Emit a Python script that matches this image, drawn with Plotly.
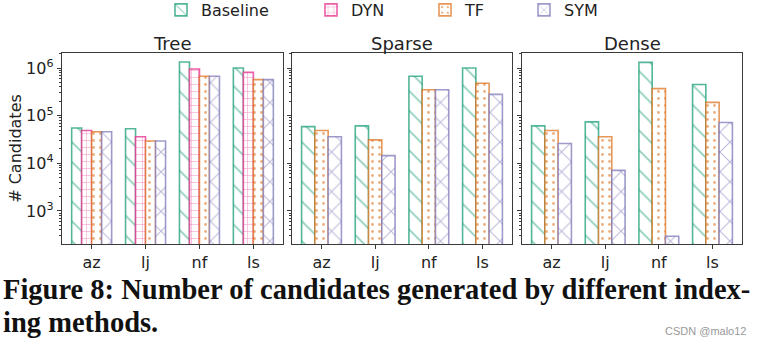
import plotly.graph_objects as go

categories = ["az", "lj", "nf", "ls"]
panels = ["Tree", "Sparse", "Dense"]
series = ["Baseline", "DYN", "TF", "SYM"]

tree_baseline = [55000, 53000, 1340000, 1000000]
tree_dyn = [49000, 36000, 950000, 810000]
tree_tf = [46000, 29500, 670000, 570000]
tree_sym = [46000, 29500, 670000, 570000]

sparse_baseline = [59000, 61000, 670000, 1000000]
sparse_tf = [49000, 31000, 350000, 480000]
sparse_sym = [36000, 14500, 350000, 280000]

dense_baseline = [61000, 74000, 1310000, 450000]
dense_tf = [49000, 36000, 370000, 190000]
dense_sym = [26000, 7100, 295, 72000]

ytick_vals = [1e3, 1e4, 1e5, 1e6]
ytick_text = ["10<sup>3</sup>", "10<sup>4</sup>", "10<sup>5</sup>", "10<sup>6</sup>"]

panel_data = {
    "Tree": {"Baseline": tree_baseline, "DYN": tree_dyn, "TF": tree_tf, "SYM": tree_sym},
    "Sparse": {"Baseline": sparse_baseline, "TF": sparse_tf, "SYM": sparse_sym},
    "Dense": {"Baseline": dense_baseline, "TF": dense_tf, "SYM": dense_sym},
}

colors = {"Baseline": "#1b9e77", "DYN": "#e7298a", "TF": "#d95f02", "SYM": "#7570b3"}
edge = {"Baseline": "rgba(27,158,119,0.75)", "DYN": "rgba(231,41,138,0.75)",
        "TF": "rgba(217,95,2,0.65)", "SYM": "rgba(117,112,179,0.7)"}
patterns = {
    "Baseline": dict(shape="\\", size=14, solidity=0.12),
    "DYN": dict(shape="+", size=7, solidity=0.15),
    "TF": dict(shape=".", size=7, solidity=0.13),
    "SYM": dict(shape="x", size=14, solidity=0.14),
}
# legend text start (pixels) for each entry
legend_text_x = {"Baseline": 201, "DYN": 351, "TF": 465, "SYM": 564}
legend_names = {"Baseline": "legend", "DYN": "legend2", "TF": "legend3", "SYM": "legend4"}

fig = go.Figure()
for pi, p in enumerate(panels):
    ax = "" if pi == 0 else str(pi + 1)
    for s in series:
        if s not in panel_data[p]:
            continue
        fig.add_trace(go.Bar(
            x=categories, y=panel_data[p][s], name=s,
            xaxis="x" + ax, yaxis="y" + ax,
            legendgroup=s, showlegend=(pi == 0), legend=legend_names[s],
            marker=dict(color="white", line=dict(color=edge[s], width=1.6),
                        pattern=dict(fgcolor=colors[s], bgcolor="white", fillmode="overlay",
                                     **patterns[s])),
        ))

W, H = 762, 345
ml, mr, mt, mb = 62, 20, 53, 101
pw = W - ml - mr
ph = H - mt - mb
px_dom = [(62, 283), (292, 512), (522, 742)]
frame = "#3a3a3a"

minor_vals = []
for k in range(2, 7):
    for m in range(2, 10):
        minor_vals.append(m * 10 ** k)

layout = dict(
    width=W, height=H, margin=dict(l=ml, r=mr, t=mt, b=mb, autoexpand=False),
    paper_bgcolor="white", plot_bgcolor="white",
    barmode="group", bargap=0.258, bargroupgap=0,
    font=dict(family="DejaVu Sans", size=16, color="#222"),
    showlegend=True,
)
for s in series:
    layout[legend_names[s]] = dict(
        orientation="h", xref="container", yref="container",
        x=(legend_text_x[s] - 40) / W, xanchor="left",
        y=1 - 10 / H, yanchor="middle",
        font=dict(family="DejaVu Sans", size=16, color="#222"),
        bgcolor="rgba(0,0,0,0)",
    )
for pi in range(3):
    ax = "" if pi == 0 else str(pi + 1)
    a, b = px_dom[pi]
    layout["xaxis" + ax] = dict(
        domain=[(a - ml) / pw, (b - ml) / pw], range=[-0.55, 3.55],
        showline=True, mirror=True, linecolor=frame, linewidth=1.4,
        ticks="outside", ticklen=4, tickcolor=frame, showgrid=False,
        tickfont=dict(family="DejaVu Sans", size=16, color="#222"),
        anchor="y" + ax, fixedrange=True,
    )
    layout["yaxis" + ax] = dict(
        type="log", range=[2.307, 6.315], domain=[0, 1],
        tickmode="array", tickvals=ytick_vals, ticktext=ytick_text,
        showticklabels=(pi == 0),
        showline=True, mirror=True, linecolor=frame, linewidth=1.4,
        ticks="outside", ticklen=4, tickcolor=frame, showgrid=False,
        minor=dict(tickmode="array", tickvals=minor_vals, ticks="outside", ticklen=2,
                   tickcolor=frame, showgrid=False),
        tickfont=dict(family="DejaVu Sans", size=16, color="#222"),
        anchor="x" + ax, fixedrange=True,
    )
layout["yaxis"]["title"] = dict(text="# Candidates", font=dict(family="DejaVu Sans", size=16, color="#222"),
                                standoff=0)

annotations = []
for pi, p in enumerate(panels):
    a, b = px_dom[pi]
    annotations.append(dict(
        text=p, xref="paper", yref="paper", x=((a + b) / 2 - ml) / pw, y=1,
        xanchor="center", yanchor="middle", yshift=10, showarrow=False,
        font=dict(family="DejaVu Sans", size=18, color="#222"),
    ))
annotations.append(dict(
    text="<b>Figure 8: Number of candidates generated by different index-</b>",
    xref="paper", yref="paper", x=(1 - ml) / pw, y=(244 - 289) / ph,
    xanchor="left", yanchor="middle", showarrow=False,
    font=dict(family="Liberation Serif", size=28.5, color="#111"),
))
annotations.append(dict(
    text="<b>ing methods.</b>",
    xref="paper", yref="paper", x=(1 - ml) / pw, y=(244 - 322) / ph,
    xanchor="left", yanchor="middle", showarrow=False,
    font=dict(family="Liberation Serif", size=28.5, color="#111"),
))
annotations.append(dict(
    text="CSDN @malo12",
    xref="paper", yref="paper", x=(705.5 - ml) / pw, y=(244 - 331) / ph,
    xanchor="center", yanchor="middle", showarrow=False,
    font=dict(family="Liberation Sans", size=11, color="#999"),
))
layout["annotations"] = annotations

fig.update_layout(**layout)
fig.write_html("out.html")
